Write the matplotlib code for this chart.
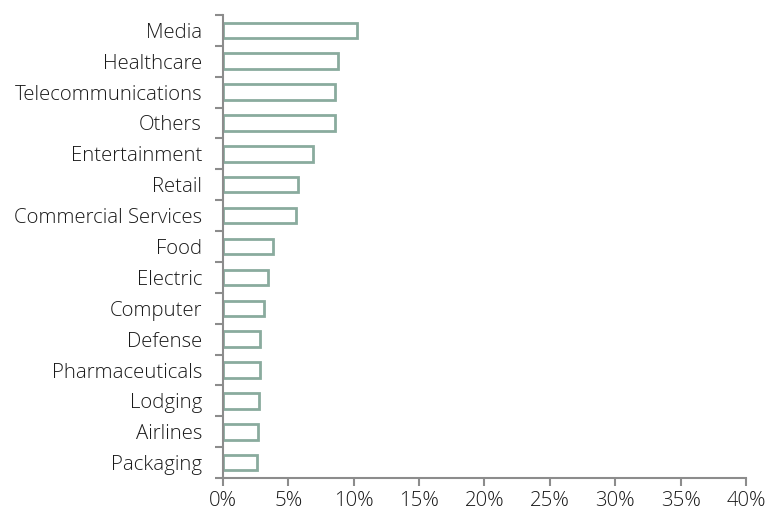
import matplotlib
matplotlib.use("Agg")
import matplotlib.pyplot as plt
import numpy as np

categories = ["Media", "Healthcare", "Telecommunications", "Others", "Entertainment",
              "Retail", "Commercial Services", "Food", "Electric", "Computer",
              "Defense", "Pharmaceuticals", "Lodging", "Airlines", "Packaging"]
values = [10.25, 8.8, 8.6, 8.55, 6.9, 5.75, 5.6, 3.85, 3.45, 3.15,
          2.85, 2.8, 2.75, 2.7, 2.6]
xticks = [0, 5, 10, 15, 20, 25, 30, 35, 40]

plt.rcParams['font.family'] = ['Open Sans', 'DejaVu Sans']
plt.rcParams['font.weight'] = 'light'

axis_col = "#8c8c8c"
bar_col = "#8aab9e"
text_col = "#1a1a1a"
fs = 14.7

fig = plt.figure(figsize=(7.66, 5.13), dpi=100)
ax = fig.add_axes([0.291, 0.068, 0.683, 0.903])

n = len(categories)
y = np.arange(n)
ax.barh(y, values, height=0.5, color="white", edgecolor=bar_col, linewidth=2)

ax.set_xlim(0, 40)
ax.set_ylim(n - 0.5, -0.5)
ax.set_xticks(xticks)
ax.set_xticklabels([f"{t}%" for t in xticks], color=text_col, fontsize=fs)
ax.set_yticks(y)
ax.set_yticklabels(categories, color=text_col, fontsize=fs)
ax.set_yticks(np.arange(n + 1) - 0.5, minor=True)

ax.tick_params(axis='y', which='major', length=0, pad=15)
ax.tick_params(axis='y', which='minor', length=6, width=1.5, color=axis_col, direction='out')
ax.tick_params(axis='x', length=6, width=1.5, color=axis_col, pad=3)

for s in ["top", "right"]:
    ax.spines[s].set_visible(False)
for s in ["left", "bottom"]:
    ax.spines[s].set_color(axis_col)
    ax.spines[s].set_linewidth(1.5)

fig.savefig("out.png", dpi=100)
